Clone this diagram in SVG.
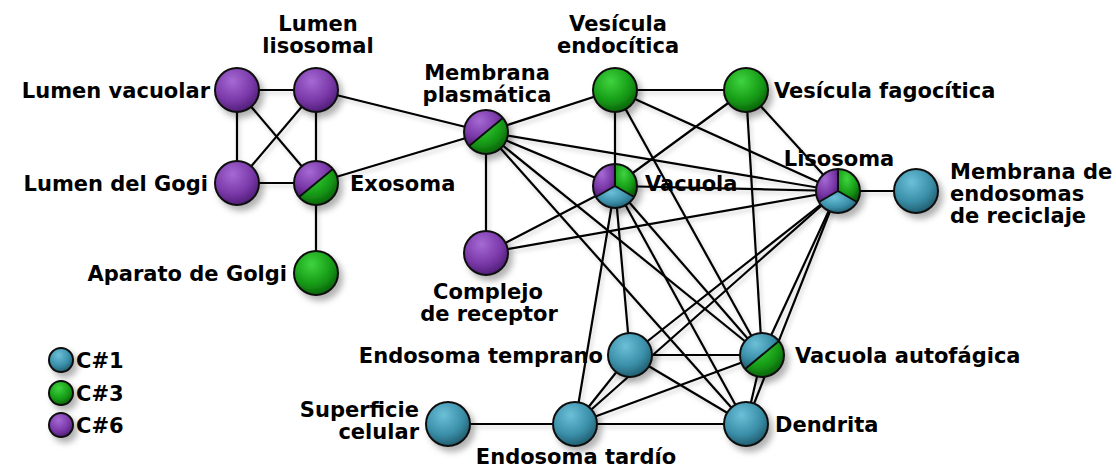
<svg xmlns="http://www.w3.org/2000/svg" width="1116" height="470" viewBox="0 0 1116 470">
<defs>
<radialGradient id="gP" cx="0.4" cy="0.3" r="0.75"><stop offset="0" stop-color="#a56ad4"/><stop offset="0.6" stop-color="#7a38a8"/><stop offset="1" stop-color="#4a1a70"/></radialGradient>
<radialGradient id="gG" cx="0.4" cy="0.3" r="0.75"><stop offset="0" stop-color="#3fd43f"/><stop offset="0.6" stop-color="#169c16"/><stop offset="1" stop-color="#0a5a0a"/></radialGradient>
<radialGradient id="gB" cx="0.4" cy="0.3" r="0.75"><stop offset="0" stop-color="#6cc0d8"/><stop offset="0.6" stop-color="#3a8ea8"/><stop offset="1" stop-color="#1d5566"/></radialGradient>
<filter id="sh" x="-50%" y="-50%" width="200%" height="200%"><feDropShadow dx="4" dy="5" stdDeviation="3" flood-color="#000" flood-opacity="0.3"/></filter>
<filter id="lsh" x="-10%" y="-10%" width="120%" height="120%"><feDropShadow dx="2" dy="3" stdDeviation="2" flood-color="#000" flood-opacity="0.18"/></filter>
</defs>
<style>
.e{stroke:#000;stroke-width:2.2;fill:none}
.o{stroke:#111;stroke-width:2}
.ring{fill:none;stroke:#111;stroke-width:2}
.d{stroke:#111;stroke-width:2;fill:none}
text{font-family:"DejaVu Sans",Verdana,sans-serif;font-weight:bold;font-size:21px;fill:#000}
.r{text-anchor:end}.m{text-anchor:middle}
</style>
<rect width="1116" height="470" fill="#fff"/>
<g id="edges" filter="url(#lsh)">
<line class="e" x1="237" y1="90" x2="316" y2="90"/>
<line class="e" x1="237" y1="90" x2="237" y2="183"/>
<line class="e" x1="237" y1="90" x2="316" y2="183"/>
<line class="e" x1="316" y1="90" x2="237" y2="183"/>
<line class="e" x1="316" y1="90" x2="316" y2="183"/>
<line class="e" x1="237" y1="183" x2="316" y2="183"/>
<line class="e" x1="316" y1="183" x2="316" y2="273"/>
<line class="e" x1="316" y1="90" x2="486" y2="132"/>
<line class="e" x1="316" y1="183" x2="486" y2="132"/>
<line class="e" x1="486" y1="132" x2="486" y2="253"/>
<line class="e" x1="486" y1="132" x2="615" y2="90"/>
<line class="e" x1="486" y1="132" x2="615" y2="186"/>
<line class="e" x1="486" y1="132" x2="838" y2="191"/>
<line class="e" x1="486" y1="132" x2="762" y2="355"/>
<line class="e" x1="486" y1="132" x2="746" y2="424"/>
<line class="e" x1="486" y1="253" x2="615" y2="186"/>
<line class="e" x1="486" y1="253" x2="838" y2="191"/>
<line class="e" x1="615" y1="90" x2="746" y2="90"/>
<line class="e" x1="615" y1="90" x2="615" y2="186"/>
<line class="e" x1="615" y1="90" x2="838" y2="191"/>
<line class="e" x1="615" y1="90" x2="762" y2="355"/>
<line class="e" x1="746" y1="90" x2="615" y2="186"/>
<line class="e" x1="746" y1="90" x2="838" y2="191"/>
<line class="e" x1="746" y1="90" x2="762" y2="355"/>
<line class="e" x1="615" y1="186" x2="838" y2="191"/>
<line class="e" x1="838" y1="191" x2="916" y2="191"/>
<line class="e" x1="615" y1="186" x2="630" y2="355"/>
<line class="e" x1="615" y1="186" x2="575" y2="424"/>
<line class="e" x1="615" y1="186" x2="762" y2="355"/>
<line class="e" x1="615" y1="186" x2="746" y2="424"/>
<line class="e" x1="838" y1="191" x2="630" y2="355"/>
<line class="e" x1="838" y1="191" x2="762" y2="355"/>
<line class="e" x1="838" y1="191" x2="746" y2="424"/>
<line class="e" x1="838" y1="191" x2="575" y2="424"/>
<line class="e" x1="630" y1="355" x2="762" y2="355"/>
<line class="e" x1="630" y1="355" x2="575" y2="424"/>
<line class="e" x1="630" y1="355" x2="746" y2="424"/>
<line class="e" x1="575" y1="424" x2="762" y2="355"/>
<line class="e" x1="575" y1="424" x2="746" y2="424"/>
<line class="e" x1="448" y1="424" x2="575" y2="424"/>
<line class="e" x1="762" y1="355" x2="746" y2="424"/>
</g>
<g id="n-lumen-vacuolar"><circle cx="237" cy="90" r="22" fill="url(#gP)" class="o" filter="url(#sh)"/>
<text class="r" x="210" y="98">Lumen vacuolar</text></g>
<g id="n-lumen-lisosomal"><circle cx="316" cy="90" r="22" fill="url(#gP)" class="o" filter="url(#sh)"/>
<text class="m" x="318" y="31">Lumen</text><text class="m" x="318" y="53">lisosomal</text></g>
<g id="n-lumen-gogi"><circle cx="237" cy="183" r="22" fill="url(#gP)" class="o" filter="url(#sh)"/>
<text class="r" x="208" y="191">Lumen del Gogi</text></g>
<g id="n-exosoma"><g filter="url(#sh)">
<circle cx="316" cy="183" r="22" fill="url(#gG)"/>
<path d="M332.9,168.9 A22,22 0 0 0 299.1,197.1 Z" fill="url(#gP)"/>
<line class="d" x1="332.9" y1="168.9" x2="299.1" y2="197.1"/>
<circle cx="316" cy="183" r="22" class="ring"/></g>
<text x="350" y="191">Exosoma</text></g>
<g id="n-aparato-golgi"><circle cx="316" cy="273" r="22" fill="url(#gG)" class="o" filter="url(#sh)"/>
<text class="r" x="287" y="281">Aparato de Golgi</text></g>
<g id="n-membrana-plasmatica"><g filter="url(#sh)">
<circle cx="486" cy="132" r="22" fill="url(#gG)"/>
<path d="M502.9,117.9 A22,22 0 0 0 469.1,146.1 Z" fill="url(#gP)"/>
<line class="d" x1="502.9" y1="117.9" x2="469.1" y2="146.1"/>
<circle cx="486" cy="132" r="22" class="ring"/></g>
<text class="m" x="487" y="80">Membrana</text><text class="m" x="487" y="102">plasmática</text></g>
<g id="n-complejo-receptor"><circle cx="486" cy="253" r="22" fill="url(#gP)" class="o" filter="url(#sh)"/>
<text class="m" x="488" y="299">Complejo</text><text class="m" x="489" y="321">de receptor</text></g>
<g id="n-vesicula-endocitica"><circle cx="615" cy="90" r="22" fill="url(#gG)" class="o" filter="url(#sh)"/>
<text class="m" x="618" y="31">Vesícula</text><text class="m" x="618" y="53">endocítica</text></g>
<g id="n-vesicula-fagocitica"><circle cx="746" cy="90" r="22" fill="url(#gG)" class="o" filter="url(#sh)"/>
<text x="774" y="98">Vesícula fagocítica</text></g>
<g id="n-vacuola"><g filter="url(#sh)">
<path d="M615,186 L615,164 A22,22 0 0 1 634.05,197 Z" fill="url(#gG)"/>
<path d="M615,186 L634.05,197 A22,22 0 0 1 595.95,197 Z" fill="url(#gB)"/>
<path d="M615,186 L595.95,197 A22,22 0 0 1 615,164 Z" fill="url(#gP)"/>
<path class="d" d="M615,164 L615,186 L634.05,197 M615,186 L595.95,197"/>
<circle cx="615" cy="186" r="22" class="ring"/></g>
<text x="645" y="191">Vacuola</text></g>
<g id="n-lisosoma"><g filter="url(#sh)">
<path d="M838,191 L838,169 A22,22 0 0 1 857.05,202 Z" fill="url(#gG)"/>
<path d="M838,191 L857.05,202 A22,22 0 0 1 818.95,202 Z" fill="url(#gB)"/>
<path d="M838,191 L818.95,202 A22,22 0 0 1 838,169 Z" fill="url(#gP)"/>
<path class="d" d="M838,169 L838,191 L857.05,202 M838,191 L818.95,202"/>
<circle cx="838" cy="191" r="22" class="ring"/></g>
<text class="m" x="839" y="166">Lisosoma</text></g>
<g id="n-membrana-endosomas"><circle cx="916" cy="191" r="22" fill="url(#gB)" class="o" filter="url(#sh)"/>
<text x="950" y="179">Membrana de</text><text x="950" y="201">endosomas</text><text x="950" y="223">de reciclaje</text></g>
<g id="n-endosoma-temprano"><circle cx="630" cy="355" r="22" fill="url(#gB)" class="o" filter="url(#sh)"/>
<text class="r" x="603" y="363">Endosoma temprano</text></g>
<g id="n-vacuola-autofagica"><g filter="url(#sh)">
<circle cx="762" cy="355" r="22" fill="url(#gG)"/>
<path d="M778.9,340.9 A22,22 0 0 0 745.1,369.1 Z" fill="url(#gB)"/>
<line class="d" x1="778.9" y1="340.9" x2="745.1" y2="369.1"/>
<circle cx="762" cy="355" r="22" class="ring"/></g>
<text x="795" y="363">Vacuola autofágica</text></g>
<g id="n-superficie-celular"><circle cx="448" cy="424" r="22" fill="url(#gB)" class="o" filter="url(#sh)"/>
<text class="r" x="419" y="417">Superficie</text><text class="r" x="419" y="439">celular</text></g>
<g id="n-endosoma-tardio"><circle cx="575" cy="424" r="22" fill="url(#gB)" class="o" filter="url(#sh)"/>
<text class="m" x="576" y="464">Endosoma tardío</text></g>
<g id="n-dendrita"><circle cx="746" cy="424" r="22" fill="url(#gB)" class="o" filter="url(#sh)"/>
<text x="775" y="432">Dendrita</text></g>
<g id="legend">
<g filter="url(#sh)"><circle cx="61" cy="360" r="12" fill="url(#gB)" class="o"/>
<circle cx="61" cy="393" r="12" fill="url(#gG)" class="o"/>
<circle cx="61" cy="425" r="12" fill="url(#gP)" class="o"/></g>
<text x="76" y="368">C#1</text><text x="76" y="401">C#3</text><text x="76" y="433">C#6</text>
</g>
</svg>
